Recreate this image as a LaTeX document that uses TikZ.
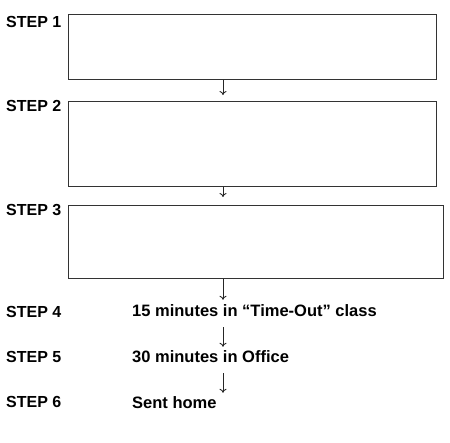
\documentclass[tikz,border=0pt]{standalone}
\usepackage{fontspec}
\setmainfont{Liberation Sans}
\usetikzlibrary{positioning,arrows.meta}

\tikzset{
  stepbox/.style={draw=black!80, line width=0.9pt, anchor=north west, inner sep=0pt},
  steplabel/.style={anchor=base west, inner sep=0pt, font=\bfseries\fontsize{16}{19}\selectfont},
  steptext/.style={anchor=base west, inner sep=0pt, text height=12pt, text depth=0pt,
    font=\bfseries\fontsize{16.5}{19}\selectfont},
  arr/.style={-{To[length=4pt,width=7pt]}, line width=0.9pt, black!85}
}

\begin{document}
\begin{tikzpicture}[x=1pt,y=-1pt]
\useasboundingbox (0,0) rectangle (450,442);

% boxes
\node[stepbox, minimum width=368pt, minimum height=65pt] (box1) at (68,14) {};
\node[stepbox, minimum width=368pt, minimum height=85pt] (box2) at (68,101) {};
\node[stepbox, minimum width=375pt, minimum height=73pt] (box3) at (68,205) {};

% step labels
\node[steplabel] (s1) at (6,27) {STEP 1};
\node[steplabel] (s2) at (6,111) {STEP 2};
\node[steplabel] (s3) at (6,215) {STEP 3};
\node[steplabel] (s4) at (6,317) {STEP 4};
\node[steplabel] (s5) at (6,362) {STEP 5};
\node[steplabel] (s6) at (6,407) {STEP 6};

% texts
\node[steptext] (t4) at (132,316) {15 minutes in “Time-Out” class};
\node[steptext] (t5) at (132,362) {30 minutes in Office};
\node[steptext] (t6) at (132,408) {Sent home};

% arrows
\coordinate (ax) at (223,0);
\draw[arr, shorten >=6pt] (box1.south -| ax) -- (box2.north -| ax);
\draw[arr, shorten >=8pt] (box2.south -| ax) -- (box3.north -| ax);
\draw[arr, shorten >=4pt] (box3.south -| ax) -- (t4.north -| ax);
\draw[arr, shorten <=11pt, shorten >=3pt] (t4.south -| ax) -- (t5.north -| ax);
\draw[arr, shorten <=11pt, shorten >=3pt] (t5.south -| ax) -- (t6.north -| ax);

\end{tikzpicture}
\end{document}
